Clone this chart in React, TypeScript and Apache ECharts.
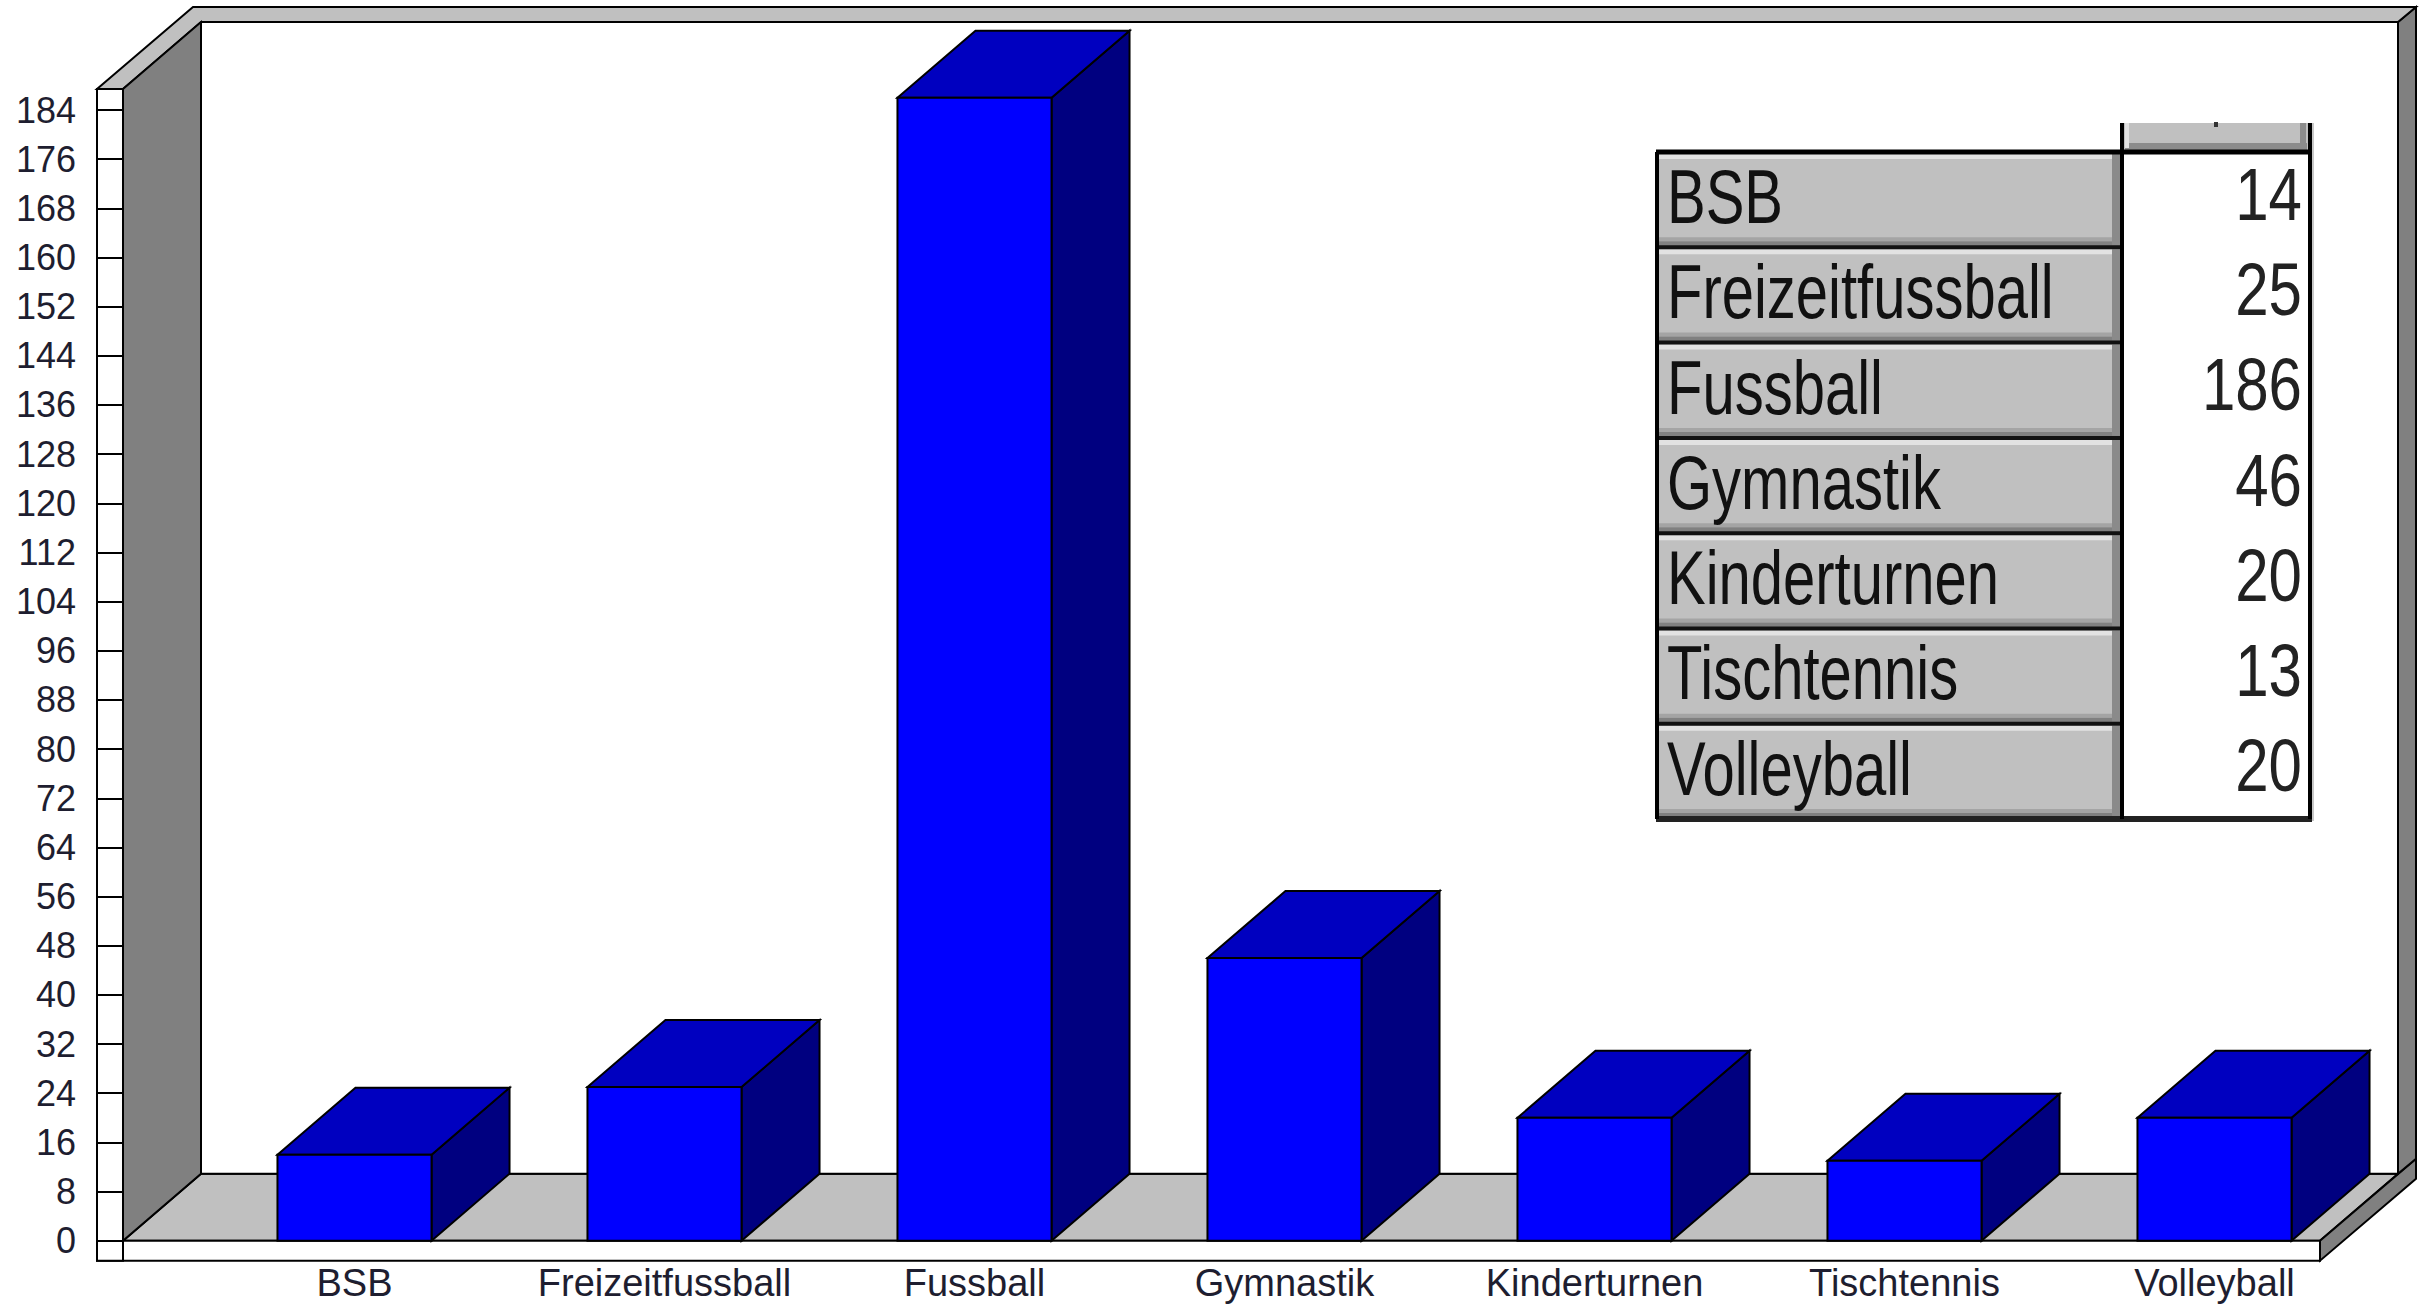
import React, { useEffect, useRef } from "react";
import * as echarts from "echarts";

// ---------- data ----------
const categories = [
  "BSB",
  "Freizeitfussball",
  "Fussball",
  "Gymnastik",
  "Kinderturnen",
  "Tischtennis",
  "Volleyball",
];
const values = [14, 25, 186, 46, 20, 13, 20];
const yMin = 0;
const yMax = 184;
const yInterval = 8;
const wallTopValue = 187.4;

// ---------- layout ----------
const W = 2427;
const H = 1304;
const GRID_LEFT = 199.5;
const GRID_RIGHT = 57.5;
const GRID_TOP = 110;
const GRID_BOTTOM = 63.3;
const BAR_RATIO = 0.497;
const DX = 78; // depth offset of bars / floor
const DY = -67;
const BDX = 18; // extra depth (wall thickness)
const BDY = -15;
const STRIP_W = 26;
const SLAB_H = 20;
const FLOOR_RIGHT = 2320;
const FONT = "'Liberation Sans', Arial, sans-serif";

function buildFrame() {
  const yFront = H - GRID_BOTTOM; // value 0 on front plane
  const ppu = (yFront - GRID_TOP) / (yMax - yMin);
  const yWallTop = yFront - wallTopValue * ppu;
  const stripR = GRID_LEFT - (DX - 1.5);
  const stripL = stripR - STRIP_W;
  const backL = stripR + DX;
  const backR = FLOOR_RIGHT + DX;
  const backBottom = yFront + DY;
  const backTop = yWallTop + DY;
  const farTop = backTop + BDY;
  const line = { stroke: "#000", lineWidth: 2 };
  const z = 1;
  return [
    {
      type: "polygon",
      z,
      shape: { points: [[stripR, yFront], [FLOOR_RIGHT, yFront], [backR, backBottom], [backL, backBottom]] },
      style: { fill: "#c0c0c0", ...line },
    },
    {
      type: "polygon",
      z,
      shape: {
        points: [
          [FLOOR_RIGHT, yFront],
          [FLOOR_RIGHT, yFront + SLAB_H],
          [backR + BDX, backBottom + SLAB_H + BDY],
          [backR + BDX, backBottom + BDY],
        ],
      },
      style: { fill: "#808080", ...line },
    },
    {
      type: "rect",
      z,
      shape: { x: stripL, y: yFront, width: FLOOR_RIGHT - stripL, height: SLAB_H },
      style: { fill: "#ffffff", ...line },
    },
    {
      type: "rect",
      z,
      shape: { x: backL, y: backTop, width: backR - backL, height: backBottom - backTop },
      style: { fill: "#ffffff", ...line },
    },
    {
      type: "polygon",
      z,
      shape: {
        points: [
          [backR, backTop],
          [backR + BDX, farTop],
          [backR + BDX, backBottom + BDY],
          [backR, backBottom],
        ],
      },
      style: { fill: "#808080", ...line },
    },
    {
      type: "polygon",
      z,
      shape: {
        points: [
          [stripL, yWallTop],
          [stripR, yWallTop],
          [backL, backTop],
          [backR, backTop],
          [backR + BDX, farTop],
          [stripL + DX + BDX, farTop],
        ],
      },
      style: { fill: "#c0c0c0", ...line },
    },
    {
      type: "polygon",
      z,
      shape: { points: [[stripR, yWallTop], [backL, backTop], [backL, backBottom], [stripR, yFront]] },
      style: { fill: "#808080", ...line },
    },
    {
      type: "rect",
      z,
      shape: { x: stripL, y: yWallTop, width: STRIP_W, height: yFront + SLAB_H - yWallTop },
      style: { fill: "#ffffff", ...line },
    },
  ];
}

// ---------- data table (legend box) ----------
const T_LEFT = 1656;
const T_MID = 2122;
const T_RIGHT = 2310;
const T_TOP = 152;
const ROW_H = 95.3;
const HEADER_TOP = 123;

function buildTable() {
  const z = 40;
  const els: any[] = [];
  const n = categories.length;
  const tBottom = T_TOP + n * ROW_H;
  // header cell above values column
  els.push({ type: "rect", z, shape: { x: T_MID, y: HEADER_TOP, width: T_RIGHT - T_MID, height: T_TOP - HEADER_TOP }, style: { fill: "#c0c0c0" } });
  els.push({ type: "rect", z, shape: { x: T_MID + 3, y: T_TOP - 9, width: T_RIGHT - T_MID - 6, height: 7 }, style: { fill: "#8c8c8c" } });
  els.push({ type: "rect", z, shape: { x: T_RIGHT - 10, y: HEADER_TOP, width: 6, height: T_TOP - HEADER_TOP - 4 }, style: { fill: "#8c8c8c" } });
  els.push({ type: "rect", z, shape: { x: T_MID + 3, y: HEADER_TOP, width: 4, height: T_TOP - HEADER_TOP - 4 }, style: { fill: "#e2e2e2" } });
  els.push({ type: "rect", z, shape: { x: (T_MID + T_RIGHT) / 2 - 2, y: HEADER_TOP - 1, width: 4, height: 5 }, style: { fill: "#333" } });
  els.push({ type: "line", z, shape: { x1: T_MID, y1: HEADER_TOP, x2: T_MID, y2: T_TOP }, style: { stroke: "#000", lineWidth: 4 } });
  els.push({ type: "line", z, shape: { x1: T_RIGHT, y1: HEADER_TOP, x2: T_RIGHT, y2: T_TOP }, style: { stroke: "#000", lineWidth: 4 } });
  // value column background
  els.push({ type: "rect", z, shape: { x: T_MID, y: T_TOP, width: T_RIGHT - T_MID, height: tBottom - T_TOP }, style: { fill: "#ffffff" } });
  for (let k = 0; k < n; k++) {
    const y0 = T_TOP + k * ROW_H;
    const y1 = y0 + ROW_H;
    els.push({ type: "rect", z, shape: { x: T_LEFT, y: y0, width: T_MID - T_LEFT, height: ROW_H }, style: { fill: "#c0c0c0" } });
    els.push({ type: "rect", z, shape: { x: T_LEFT + 2, y: y0 + 2, width: T_MID - T_LEFT - 4, height: 5 }, style: { fill: "#e2e2e2" } });
    els.push({ type: "rect", z, shape: { x: T_LEFT + 2, y: y1 - 10, width: T_MID - T_LEFT - 4, height: 4 }, style: { fill: "#a4a4a4" } });
    els.push({ type: "rect", z, shape: { x: T_LEFT + 2, y: y1 - 6, width: T_MID - T_LEFT - 4, height: 5 }, style: { fill: "#808080" } });
    els.push({ type: "rect", z, shape: { x: T_MID - 10, y: y0 + 2, width: 8, height: ROW_H - 4 }, style: { fill: "#8a8a8a" } });
    els.push({ type: "line", z, shape: { x1: T_LEFT, y1: y0, x2: T_MID, y2: y0 }, style: { stroke: "#111", lineWidth: 4 } });
    els.push({
      type: "text",
      z: z + 1,
      x: T_LEFT + 11,
      y: (y0 + y1) / 2 - 3,
      scaleY: 1.3,
      style: { text: categories[k], x: 0, y: 0, fill: "#111", font: `58px ${FONT}`, textAlign: "left", textVerticalAlign: "middle" },
    });
    els.push({
      type: "text",
      z: z + 1,
      x: T_RIGHT - 8,
      y: (y0 + y1) / 2 - 6,
      scaleY: 1.25,
      style: { text: String(values[k]), x: 0, y: 0, fill: "#222", font: `60px ${FONT}`, textAlign: "right", textVerticalAlign: "middle" },
    });
  }
  els.push({ type: "line", z, shape: { x1: T_LEFT, y1: T_TOP, x2: T_RIGHT + 2, y2: T_TOP }, style: { stroke: "#000", lineWidth: 5 } });
  els.push({ type: "line", z, shape: { x1: T_LEFT, y1: tBottom, x2: T_RIGHT + 2, y2: tBottom }, style: { stroke: "#222", lineWidth: 6 } });
  els.push({ type: "line", z, shape: { x1: T_LEFT + 1, y1: T_TOP, x2: T_LEFT + 1, y2: tBottom }, style: { stroke: "#000", lineWidth: 4 } });
  els.push({ type: "line", z, shape: { x1: T_MID, y1: T_TOP, x2: T_MID, y2: tBottom }, style: { stroke: "#000", lineWidth: 4 } });
  els.push({ type: "line", z, shape: { x1: T_RIGHT, y1: T_TOP, x2: T_RIGHT, y2: tBottom }, style: { stroke: "#000", lineWidth: 4 } });
  els.push({ type: "line", z, shape: { x1: T_RIGHT + 3, y1: HEADER_TOP, x2: T_RIGHT + 3, y2: tBottom + 2 }, style: { stroke: "#c8c8c8", lineWidth: 2 } });
  return els;
}

export default function App() {
  const ref = useRef<HTMLDivElement>(null);
  useEffect(() => {
    if (!ref.current) return;
    const chart = echarts.init(ref.current, null, { renderer: "svg" });
    chart.setOption({
      animation: false,
      backgroundColor: "#ffffff",
      grid: { left: GRID_LEFT, right: GRID_RIGHT, top: GRID_TOP, bottom: GRID_BOTTOM, containLabel: false },
      xAxis: {
        type: "category",
        data: categories,
        axisLine: { show: false },
        axisTick: { show: false },
        splitLine: { show: false },
        axisLabel: { interval: 0, margin: 23, fontSize: 38, color: "#1e1e30", fontFamily: FONT },
        z: 20,
      },
      yAxis: {
        type: "value",
        min: yMin,
        max: yMax,
        interval: yInterval,
        offset: DX - 1.5,
        axisLine: { show: false },
        axisTick: { show: true, inside: false, length: STRIP_W, lineStyle: { color: "#000", width: 2 } },
        splitLine: { show: false },
        axisLabel: { margin: 47, fontSize: 36, color: "#1e1e30", fontFamily: FONT },
        z: 20,
      },
      graphic: { elements: [...buildFrame(), ...buildTable()] },
      series: [
        {
          type: "custom",
          z: 10,
          clip: false,
          data: categories.map((c, i) => [i, values[i]]),
          renderItem: (params: any, api: any) => {
            const v = api.value(1);
            const top = api.coord([api.value(0), v]);
            const base = api.coord([api.value(0), 0]);
            const bw = api.size([1, 0])[0] * BAR_RATIO;
            const x0 = top[0] - bw / 2;
            const x1 = top[0] + bw / 2;
            const yT = top[1];
            const yB = base[1];
            const s = { stroke: "#000", lineWidth: 2 };
            return {
              type: "group",
              children: [
                {
                  type: "polygon",
                  shape: { points: [[x1, yB], [x1 + DX, yB + DY], [x1 + DX, yT + DY], [x1, yT]] },
                  style: { fill: "#000080", ...s },
                },
                {
                  type: "polygon",
                  shape: { points: [[x0, yT], [x1, yT], [x1 + DX, yT + DY], [x0 + DX, yT + DY]] },
                  style: { fill: "#0000c0", ...s },
                },
                {
                  type: "rect",
                  shape: { x: x0, y: yT, width: bw, height: yB - yT },
                  style: { fill: "#0000ff", ...s },
                },
              ],
            };
          },
        },
      ],
    });
    return () => chart.dispose();
  }, []);
  return (
    <div
      ref={ref}
      style={{ position: "fixed", left: 0, top: 0, width: W, height: H, background: "#fff" }}
    />
  );
}
